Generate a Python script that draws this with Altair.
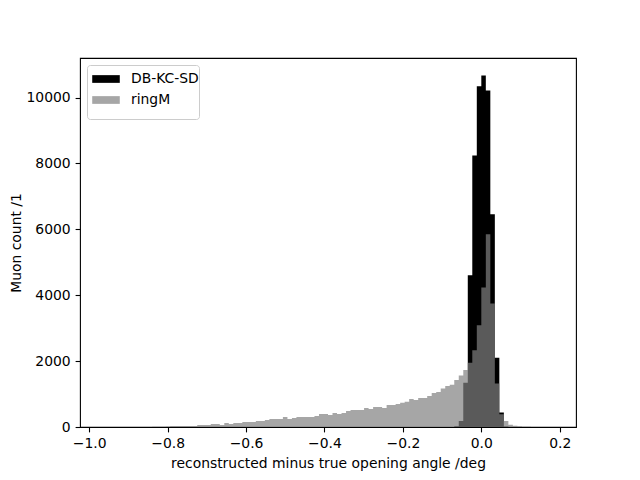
import altair as alt
import pandas as pd

# ---- data (histogram counts per bin) ----
BIN_WIDTH = 0.0115
series_names = ["DB-KC-SD", "ringM"]

black_first_edge = -0.069
black_counts = [20, 182, 1343, 4606, 8242, 10343, 10667, 10212, 6455, 2100, 440, 15]

gray_first_edge = -0.851
gray_counts = [
    3, 5, 8, 10, 15,
    30, 30, 30, 30, 30, 30, 61, 61, 61, 91, 91, 61, 121, 91, 121, 121, 152, 152, 152, 182, 182,
    212, 242, 242, 242, 303, 242, 273, 303, 303, 303, 303, 333, 394, 394, 364, 424, 394, 424, 485, 515,
    515, 515, 576, 545, 606, 606, 576, 667, 667, 697, 737, 768, 848, 818, 879, 879, 939, 1030, 1061, 1172, 1242, 1283,
    1424, 1560, 1727, 1949, 2333, 3091, 4232, 5848, 3747, 1323, 390, 180, 70, 35, 25,
    10, 5,
]

x_ticks = [-1.0, -0.8, -0.6, -0.4, -0.2, 0.0, 0.2]
y_ticks = [0, 2000, 4000, 6000, 8000, 10000]


def step_rows(first_edge, counts, name):
    rows = []
    for i, c in enumerate(counts):
        rows.append({"edge": round(first_edge + i * BIN_WIDTH, 6), "count": c, "series": name})
    rows.append({"edge": round(first_edge + len(counts) * BIN_WIDTH, 6), "count": 0, "series": name})
    return pd.DataFrame(rows)


df_black = step_rows(black_first_edge, black_counts, series_names[0])
df_gray = step_rows(gray_first_edge, gray_counts, series_names[1])

FONT = "DejaVu Sans"
FS = 13.9

x_scale = alt.Scale(domain=[-1.0235, 0.2415], nice=False, zero=False)
y_scale = alt.Scale(domain=[0, 11200], nice=False, zero=False)

x_axis = alt.Axis(
    values=x_ticks,
    labelExpr="replace(format(datum.value, '.1f'), '-', '\u2212')",
    title="reconstructed minus true opening angle /deg",
    grid=False,
)
y_axis = alt.Axis(values=y_ticks, format="d", title="Muon count /1", grid=False, titlePadding=3)

legend = alt.Legend(
    title=" ",
    titleOrient="bottom",
    titleFontSize=10,
    titlePadding=2,
    orient="none",
    legendX=7,
    legendY=7,
    symbolType="M-1,-0.28L1,-0.28L1,0.28L-1,0.28Z",
    symbolSize=760,
    symbolStrokeWidth=0,
    symbolOpacity=1,
    symbolOffset=5,
    labelFont=FONT,
    labelFontSize=FS,
    labelColor="black",
    fillColor="rgba(255,255,255,0.8)",
    strokeColor="#cccccc",
    cornerRadius=3,
    padding=0,
    rowPadding=0,
    labelOffset=11,
)

black = alt.Chart(df_black).mark_area(interpolate="step-after").encode(
    x=alt.X("edge:Q", scale=x_scale, axis=x_axis),
    y=alt.Y("count:Q", scale=y_scale, axis=y_axis, stack=None),
    color=alt.Color(
        "series:N",
        scale=alt.Scale(domain=series_names, range=["#000000", "#a6a6a6"]),
        legend=legend,
    ),
)

gray = alt.Chart(df_gray).mark_area(
    interpolate="step-after", color="#808080", opacity=0.7
).encode(
    x=alt.X("edge:Q", scale=x_scale),
    y=alt.Y("count:Q", scale=y_scale, stack=None),
)

chart = (
    alt.layer(black, gray)
    .properties(
        width=496,
        height=369,
        background="white",
        autosize=alt.AutoSizeParams(type="none"),
        padding={"left": 72, "top": 50, "right": 56, "bottom": 45},
    )
    .configure_view(stroke="black", strokeWidth=1.1)
    .configure_axis(
        domain=False,
        tickColor="black",
        tickSize=4.9,
        tickWidth=1.1,
        labelFont=FONT,
        labelFontSize=FS,
        labelColor="black",
        labelPadding=4.9,
        titleFont=FONT,
        titleFontSize=FS,
        titleFontWeight="normal",
        titleColor="black",
        titlePadding=5.6,
    )
)

chart.save("out.html", embed_options={"renderer": "svg", "actions": False})
